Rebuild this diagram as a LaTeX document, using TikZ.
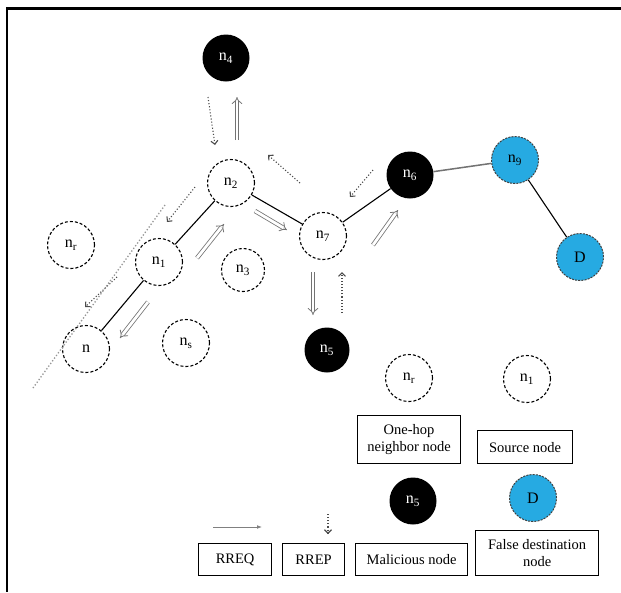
\documentclass[tikz,border=0pt]{standalone}
\usepackage{fontspec}
\setmainfont{Liberation Serif}
\usetikzlibrary{arrows.meta,calc}
\definecolor{cyanish}{RGB}{38,170,226}
\definecolor{faintc}{RGB}{150,150,150}
\tikzset{
  lab/.style={font=\fontsize{16}{18}\selectfont},
  nd/.style={circle, draw, dash pattern=on 3pt off 2pt, line width=1.1pt, minimum size=47pt, inner sep=0pt, lab},
  mal/.style={circle, fill=black, text=white, minimum size=47pt, inner sep=0pt, lab},
  dst/.style={circle, fill=cyanish, draw=black!75, dash pattern=on 2pt off 1.2pt, line width=1pt, minimum size=47pt, inner sep=0pt, lab},
  link/.style={line width=1.1pt},
  rreq/.style={double=white, double distance=2.8pt, line width=0.8pt, draw=black!55, -{Implies}},
  rrep/.style={dotted, line width=1.1pt, draw=black!70, -{Straight Barb[length=3.5pt]}},
  faint/.style={dotted, line width=1.3pt, draw=faintc},
  lbox/.style={draw, line width=1.2pt, align=center, font=\fontsize{14.5}{17}\selectfont, inner sep=2pt, anchor=north west}
}
\newcommand{\nl}[1]{$\mathrm{n}_{\mathrm{#1}}$}
\begin{document}
\begin{tikzpicture}[x=1pt,y=-1pt]
\useasboundingbox (0,0) rectangle (621,592);
% frame
\draw[line width=3pt] (7,8) -- (621,8);
\draw[line width=2pt] (7,7) -- (7,592);

% graph nodes
\node[mal] (n4) at (226,58) {\nl{4}};
\node[nd]  (n2) at (231,183) {\nl{2}};
\node[nd]  (n1) at (159,262) {\nl{1}};
\node[nd]  (n)  at (86,349) {n};
\node[nd]  (nr) at (71,245) {\nl{r}};
\node[nd]  (ns) at (186,343) {\nl{s}};
\node[nd, minimum size=43pt] (n3) at (243,270) {\nl{3}};
\node[nd]  (n7) at (323,236) {\nl{7}};
\node[mal] (n6) at (410,175) {\nl{6}};
\node[dst] (n9) at (515,160) {\nl{9}};
\node[dst] (d)  at (580,257) {D};
\node[mal, minimum size=45pt] (n5) at (327,350) {\nl{5}};

% links
\draw[link] (n) -- (n1);
\draw[link] (n1) -- (n2);
\draw[link] (n2) -- (n7);
\draw[link] (n7) -- (n6);
\draw[line width=1.5pt, draw=black!55] (n6) -- (n9);
\draw[link] (n9) -- (d);

% arrow end coordinates
\coordinate (a1s) at (237,140); \coordinate (a1e) at (237,97);
\coordinate (b1s) at (208,97);  \coordinate (b1e) at (215,145);
\coordinate (a2s) at (255,211); \coordinate (a2e) at (287,230);
\coordinate (b2s) at (300,183); \coordinate (b2e) at (268,155);
\coordinate (a3s) at (373,245); \coordinate (a3e) at (398,210);
\coordinate (b3s) at (373,170); \coordinate (b3e) at (350,197);
\coordinate (a4s) at (313,272); \coordinate (a4e) at (313,315);
\coordinate (b4s) at (342,313); \coordinate (b4e) at (342,272);
\coordinate (a5s) at (197,258); \coordinate (a5e) at (224,224);
\coordinate (b5s) at (195,187); \coordinate (b5e) at (167,222);
\coordinate (a6s) at (148,302); \coordinate (a6e) at (120,338);
\coordinate (b6s) at (117,277); \coordinate (b6e) at (85,307);
\coordinate (f1s) at (165,205); \coordinate (f1e) at (33,388);

\draw[rreq] (a1s) -- (a1e);
\draw[rrep] (b1s) -- (b1e);
\draw[rreq] (a2s) -- (a2e);
\draw[rrep] (b2s) -- (b2e);
\draw[rreq] (a3s) -- (a3e);
\draw[rrep] (b3s) -- (b3e);
\draw[rreq] (a4s) -- (a4e);
\draw[rrep] (b4s) -- (b4e);
\draw[rreq] (a5s) -- (a5e);
\draw[rrep] (b5s) -- (b5e);
\draw[rreq] (a6s) -- (a6e);
\draw[rrep] (b6s) -- (b6e);
\draw[faint] (f1s) -- (f1e);

% legend
\node[nd]  (lnr) at (409,378) {\nl{r}};
\node[nd]  (lsrc) at (527,379) {\nl{1}};
\node[mal] (lmal) at (413,501) {\nl{5}};
\node[dst] (ldst) at (533,498) {D};

\node[lbox, minimum width=103pt, minimum height=48pt] (b1) at (357,415) {One-hop\\neighbor node};
\node[lbox, minimum width=95pt, minimum height=33pt] (b2) at (477,430) {Source node};
\node[lbox, minimum width=112pt, minimum height=32pt] (b3) at (355,543) {Malicious node};
\node[lbox, minimum width=123pt, minimum height=45pt] (b4) at (475,530) {False destination\\node};
\node[lbox, minimum width=73pt, minimum height=32pt] (b5) at (198,543) {RREQ};
\node[lbox, minimum width=62pt, minimum height=32pt] (b6) at (282,543) {RREP};

\coordinate (lq1) at (213,527); \coordinate (lq2) at (262,527);
\coordinate (lp1) at (328,514); \coordinate (lp2) at (328,534);
\draw[line width=0.8pt, draw=black!50, -{Latex[length=5pt]}] (lq1) -- (lq2);
\draw[rrep] (lp1) -- (lp2);
\end{tikzpicture}
\end{document}
